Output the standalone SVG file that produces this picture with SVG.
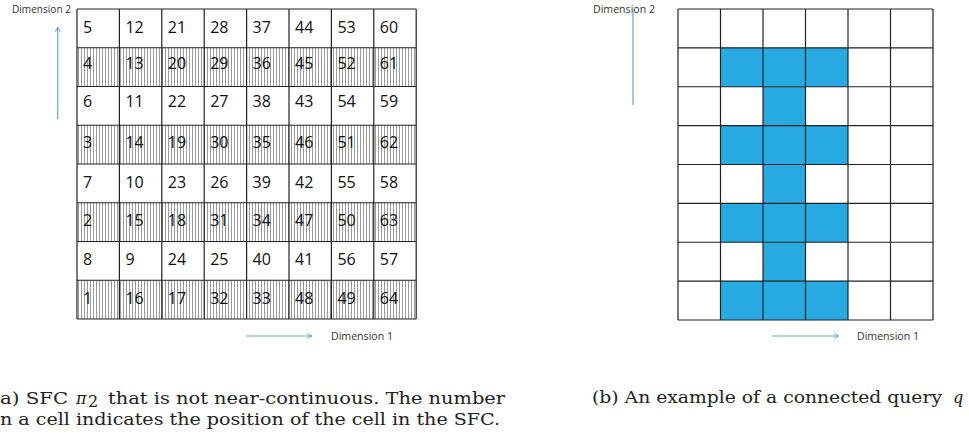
<svg xmlns="http://www.w3.org/2000/svg" width="969" height="434" viewBox="0 0 969 434">
<style>
.num{font-family:"Open Sans","Liberation Sans",sans-serif;font-size:16px;fill:#111}
.dim{font-family:"Open Sans","Liberation Sans",sans-serif;font-size:10.5px;fill:#333}
.cap{font-family:"DejaVu Serif","Liberation Serif",serif;font-size:16px;fill:#222}
.grid{fill:none;stroke:#222;stroke-width:1.2}
.q{fill:#27aae1}
.arr{stroke:#6a9bd8;stroke-width:1.2;fill:none}
</style>
<defs>
<pattern id="hatch" width="3" height="10" patternUnits="userSpaceOnUse">
<rect width="3" height="10" fill="#fff"/>
<rect x="0" width="1" height="10" fill="#9a9a9a"/>
</pattern>
<marker id="ah" viewBox="0 0 10 10" refX="9" refY="5" markerWidth="6" markerHeight="6" orient="auto" markerUnits="userSpaceOnUse">
<path d="M1,1 L9,5 L1,9" fill="none" stroke="#6a9bd8" stroke-width="1.5"/>
</marker>
</defs>
<rect width="969" height="434" fill="#fff"/>

<g id="gridA">
<rect x="77" y="47.75" width="339.2" height="38.75" fill="url(#hatch)"/>
<rect x="77" y="125.25" width="339.2" height="38.75" fill="url(#hatch)"/>
<rect x="77" y="202.75" width="339.2" height="38.75" fill="url(#hatch)"/>
<rect x="77" y="280.25" width="339.2" height="38.75" fill="url(#hatch)"/>
<path class="grid" d="M77,9V319M119.4,9V319M161.8,9V319M204.2,9V319M246.6,9V319M289,9V319M331.4,9V319M373.8,9V319M416.2,9V319M77,9H416.2M77,47.75H416.2M77,86.5H416.2M77,125.25H416.2M77,164H416.2M77,202.75H416.2M77,241.5H416.2M77,280.25H416.2M77,319H416.2"/>
<g class="num">
<text x="83" y="33">5</text><text x="125.4" y="33">12</text><text x="167.8" y="33">21</text><text x="210.2" y="33">28</text><text x="252.6" y="33">37</text><text x="295" y="33">44</text><text x="337.4" y="33">53</text><text x="379.8" y="33">60</text>
<text x="83" y="69">4</text><text x="125.4" y="69">13</text><text x="167.8" y="69">20</text><text x="210.2" y="69">29</text><text x="252.6" y="69">36</text><text x="295" y="69">45</text><text x="337.4" y="69">52</text><text x="379.8" y="69">61</text>
<text x="83" y="107">6</text><text x="125.4" y="107">11</text><text x="167.8" y="107">22</text><text x="210.2" y="107">27</text><text x="252.6" y="107">38</text><text x="295" y="107">43</text><text x="337.4" y="107">54</text><text x="379.8" y="107">59</text>
<text x="83" y="147.5">3</text><text x="125.4" y="147.5">14</text><text x="167.8" y="147.5">19</text><text x="210.2" y="147.5">30</text><text x="252.6" y="147.5">35</text><text x="295" y="147.5">46</text><text x="337.4" y="147.5">51</text><text x="379.8" y="147.5">62</text>
<text x="83" y="188">7</text><text x="125.4" y="188">10</text><text x="167.8" y="188">23</text><text x="210.2" y="188">26</text><text x="252.6" y="188">39</text><text x="295" y="188">42</text><text x="337.4" y="188">55</text><text x="379.8" y="188">58</text>
<text x="83" y="226">2</text><text x="125.4" y="226">15</text><text x="167.8" y="226">18</text><text x="210.2" y="226">31</text><text x="252.6" y="226">34</text><text x="295" y="226">47</text><text x="337.4" y="226">50</text><text x="379.8" y="226">63</text>
<text x="83" y="265">8</text><text x="125.4" y="265">9</text><text x="167.8" y="265">24</text><text x="210.2" y="265">25</text><text x="252.6" y="265">40</text><text x="295" y="265">41</text><text x="337.4" y="265">56</text><text x="379.8" y="265">57</text>
<text x="83" y="304">1</text><text x="125.4" y="304">16</text><text x="167.8" y="304">17</text><text x="210.2" y="304">32</text><text x="252.6" y="304">33</text><text x="295" y="304">48</text><text x="337.4" y="304">49</text><text x="379.8" y="304">64</text>
</g>
</g>

<g id="gridB">
<rect class="q" x="720.5" y="47.9" width="127.5" height="38.85"/>
<rect class="q" x="763" y="86.75" width="42.5" height="38.85"/>
<rect class="q" x="720.5" y="125.6" width="127.5" height="38.9"/>
<rect class="q" x="763" y="164.5" width="42.5" height="38.9"/>
<rect class="q" x="720.5" y="203.4" width="127.5" height="38.85"/>
<rect class="q" x="763" y="242.25" width="42.5" height="38.85"/>
<rect class="q" x="720.5" y="281.1" width="127.5" height="38.9"/>
<path class="grid" d="M678,9V320M720.5,9V320M763,9V320M805.5,9V320M848,9V320M890.5,9V320M933,9V320M678,9H933M678,47.9H933M678,86.75H933M678,125.6H933M678,164.5H933M678,203.4H933M678,242.25H933M678,281.1H933M678,320H933"/>
</g>

<g id="labels">
<text class="dim" x="12" y="13" textLength="59" lengthAdjust="spacingAndGlyphs">Dimension 2</text>
<text class="dim" x="331" y="340" textLength="62" lengthAdjust="spacingAndGlyphs">Dimension 1</text>
<text class="dim" x="593" y="13" textLength="62" lengthAdjust="spacingAndGlyphs">Dimension 2</text>
<text class="dim" x="857" y="340" textLength="62" lengthAdjust="spacingAndGlyphs">Dimension 1</text>
</g>

<g id="connectors">
<line class="arr" x1="57.7" y1="119" x2="57.7" y2="27" marker-end="url(#ah)"/>
<line class="arr" x1="246" y1="336" x2="312" y2="336" marker-end="url(#ah)"/>
<line class="arr" x1="633" y1="105" x2="633" y2="10"/>
<line class="arr" x1="772" y1="336" x2="839" y2="336" marker-end="url(#ah)"/>
</g>

<g id="captions">
<text class="cap" x="0" y="404" textLength="68" lengthAdjust="spacingAndGlyphs">a) SFC</text>
<text class="cap" x="76" y="404" font-style="italic">π</text>
<text class="cap" x="88" y="407" font-size="11.5">2</text>
<text class="cap" x="108" y="404" textLength="397" lengthAdjust="spacingAndGlyphs">that is not near-continuous. The number</text>
<text class="cap" x="0" y="425" textLength="500" lengthAdjust="spacingAndGlyphs">n a cell indicates the position of the cell in the SFC.</text>
<text class="cap" x="592" y="403" textLength="350" lengthAdjust="spacingAndGlyphs">(b) An example of a connected query</text>
<text class="cap" x="953" y="403" font-style="italic">q</text>
</g>
</svg>
